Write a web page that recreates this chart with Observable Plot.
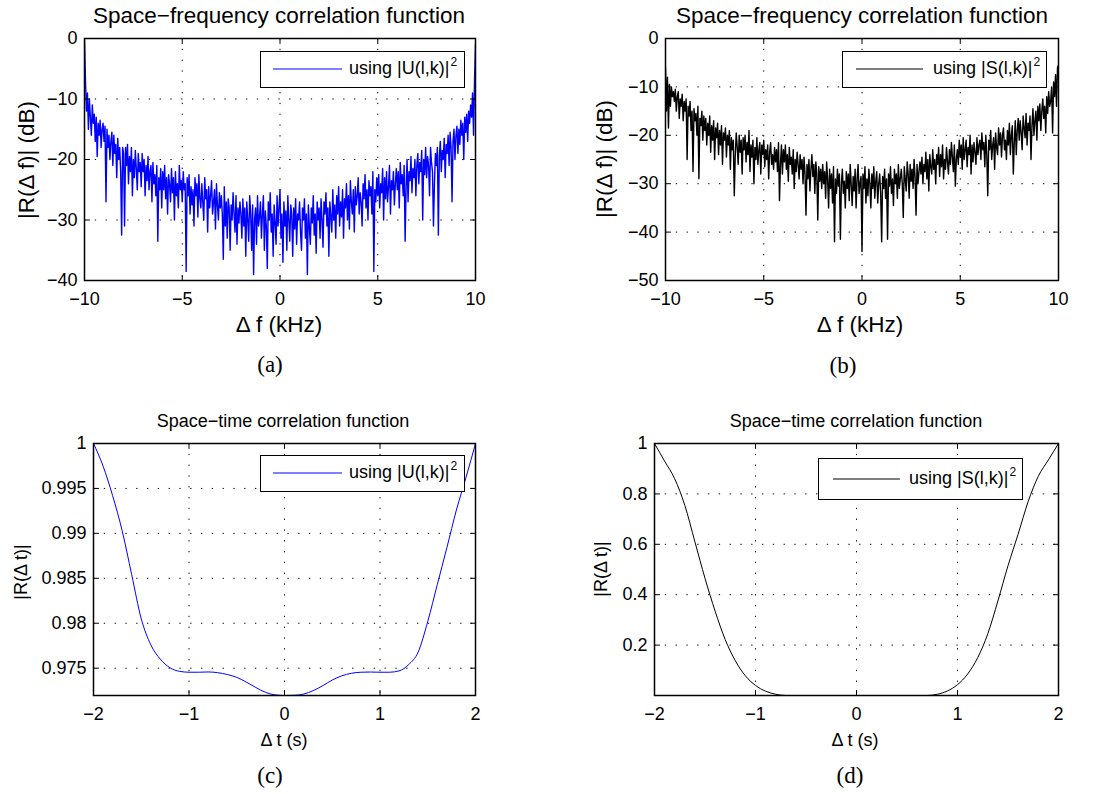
<!DOCTYPE html>
<html><head><meta charset="utf-8">
<script src="https://cdn.jsdelivr.net/npm/d3@7"></script>
<script src="https://cdn.jsdelivr.net/npm/@observablehq/plot@0.6"></script>
<style>
body{margin:0;background:#fff;}
#root{position:relative;width:1098px;height:794px;overflow:hidden;font-family:"Liberation Sans",Arial,sans-serif;color:#000;background:#fff;}
.pl{position:absolute;}
.c{position:absolute;transform:translate(-50%,-50%);white-space:nowrap;line-height:1;}
.rot{position:absolute;transform:translate(-50%,-50%) rotate(-90deg);white-space:nowrap;line-height:1;}
.cap{font-family:"Liberation Serif","Times New Roman",serif;font-size:23px;}
.legend{position:absolute;border:1.4px solid #000;background:#fff;box-sizing:border-box;}
.legend svg{position:absolute;overflow:visible;}
.legend .tx{position:absolute;font-size:18px;line-height:1;white-space:nowrap;}
.legend sup{font-size:12px;vertical-align:0;position:relative;top:-8px;margin-left:1px;}
</style></head><body><div id="root"></div>
<script>
// ---- data ----
const freqStart = -10, freqStep = 0.05; // kHz sampling of panels (a),(b)
const corrU_dB = [
 0,-7,-12,-9,-15,-10,-13,-16,-11,-14,-12.5,-17,-13,-19.5,-14,-16,-13.5,-18,-15,-14,
 -17,-14.5,-27,-15,-18,-16,-20,-17,-15.5,-21,-16,-19,-17.5,-23,-16.5,-20,-18,-22,-32.5,-18,
 -19,-31,-18,-21,-17.5,-24,-19.5,-22,-18,-26,-20,-23,-18.5,-21.5,-25,-19,-22,-20.5,-24.5,-19,
 -22,-20,-26,-21,-23.5,-19.5,-25,-22,-21,-27,-20.5,-24,-22.5,-26,-21,-33.5,-23,-25,-21.5,-28,
 -22,-25,-21,-26.5,-23,-29,-22.5,-24,-27,-21.5,-25.5,-23,-30,-22,-26,-24,-28,-21,-25,-23.5,
 -27,-22,-25,-24,-38.5,-23,-26,-22.5,-29,-24.5,-27.5,-25,-31,-23,-26,-24,-29.5,-22.5,-26.5,-28,
 -24,-27,-30,-23,-26.5,-25,-32,-24.5,-28,-26,-23.5,-29,-27,-25,-31.5,-24,-27.5,-30,-25.5,-28,
 -26,-29,-36.5,-24.5,-31,-27,-33,-26.5,-28,-35,-27.5,-30,-25.5,-29,-32,-26,-34,-28,-30.5,-27,
 -29,-33,-26.5,-31,-28,-36,-27,-30,-33.5,-26,-29,-35,-27.5,-39,-30,-28,-34,-26,-31,-29.5,
 -27,-33,-29,-26,-35,-28.5,-31,-38,-27,-30,-25.5,-32,-29,-36,-27.5,-30.5,-34,-26,-31,-28,
 -25,-33,-29,-37,-27,-31,-28.5,-35,-26,-30,-33.5,-27.5,-29,-36,-28,-31.5,-26.5,-34,-29,-30,
 -27,-32,-35,-28,-30,-26.5,-33,-29,-39,-27.5,-31,-34,-28,-30.5,-26,-32.5,-29,-35.5,-27,-30,
 -28,-33,-26.5,-30,-34.5,-27,-29,-25.5,-31,-28,-36,-27,-29.5,-32,-25,-30,-27.5,-33,-26,-29,
 -24.5,-31,-27,-29.5,-25,-33,-26.5,-28,-24,-30,-26,-31.5,-23.5,-27,-29,-25,-32,-24.5,-27.5,-26,
 -23,-29,-25.5,-27,-31,-24,-26.5,-22.5,-28,-25,-30,-23.5,-26,-24.5,-29,-22,-38.5,-25,-27,-23,
 -26,-22.5,-28,-24,-25.5,-21.5,-30,-23,-26.5,-22,-27,-24.5,-21,-29,-23.5,-25,-22,-27.5,-24,-21.5,
 -25,-22,-28,-20.5,-24,-22.5,-26,-21,-33.5,-24.5,-20,-27,-22,-23.5,-19.5,-25.5,-21.5,-23,-20,-26,
 -21,-19,-24,-20.5,-22,-18.5,-30,-20,-22.5,-18,-23,-19.5,-21,-26,-18,-20.5,-22,-31,-24,-19,
 -21,-18,-32.5,-19.5,-17,-22,-18.5,-20,-16.5,-23,-17.5,-19,-16,-21,-15.5,-18,-27,-17,-15,-20,
 -16,-14.5,-19,-15,-17.5,-13.5,-16,-14,-20,-13,-15.5,-12.5,-17,-12,-14,-11,-13,-9,-16,-7,-1
];
const corrS_dB = [
 -6,-15,-8,-18.5,-9.5,-14,-10,-12,-11,-13,-10.5,-15,-12,-11,-16.5,-12.5,-14,-11.5,-17,-13,
 -15,-12.5,-25,-14,-16,-13,-19,-15,-27.5,-14.5,-17,-15.5,-20,-14,-29,-16.5,-18,-15,-21,-16,
 -19,-16.5,-22,-17.5,-20,-16,-23.5,-18,-21,-17,-25,-18.5,-20.5,-17.5,-24,-19,-22,-18,-26,-19.5,
 -21,-18.5,-24.5,-20,-22,-19,-27,-20.5,-23,-21,-32.5,-24,-19.5,-22.5,-26,-20,-23.5,-21,-28,-20.5,
 -23,-20,-25.5,-21.5,-24,-19,-27.5,-22,-24.5,-21,-30,-22.5,-25,-20.5,-26,-23,-21.5,-28,-22,-24,
 -21,-26.5,-23,-25,-22,-29,-23.5,-21.5,-26,-24,-27,-22.5,-25.5,-23,-27.5,-21.5,-33.5,-26,-22,-28,
 -23,-25.5,-22,-27,-24,-29.5,-22.5,-26,-24.5,-28,-23,-31,-25,-27.5,-23.5,-26,-29,-24,-27,-25,
 -30,-24.5,-28,-36.5,-26,-29,-25,-31.5,-27,-24,-28.5,-26,-32,-25.5,-28,-37.5,-26.5,-29.5,-27,-31,
 -26,-30,-27.5,-33,-25.5,-29,-35,-27,-31,-28,-34,-26.5,-42,-29,-32,-27,-30.5,-28,-41.5,-30,
 -27,-32,-29.5,-35,-27.5,-31,-28,-33.5,-26,-30,-34.5,-28.5,-31.5,-27,-35,-29,-26,-32,-30,-28.5,
 -44,-28,-31,-26.5,-34,-29,-32.5,-27,-30,-35,-28,-31,-26.5,-33,-29.5,-27.5,-34,-30,-28,-32,
 -42,-28.5,-31,-27,-33,-29,-41.5,-28,-30.5,-26.5,-32,-29,-34.5,-27,-30,-28,-33,-26,-31,-29,
 -27,-30,-37,-26.5,-29,-31.5,-25.5,-28,-33,-26,-29.5,-27,-31,-25,-28.5,-36.5,-26,-30,-27.5,-25.5,
 -28,-24.5,-30,-26,-27.5,-23.5,-29,-25,-31.5,-24,-26.5,-28,-23,-27,-25,-30,-24,-26,-22.5,-28.5,
 -24,-26.5,-22,-29,-25,-27,-22.5,-25.5,-28,-23,-26,-21.5,-24.5,-27.5,-22,-30.5,-25,-23,-26,-21,
 -24.5,-22,-27,-20.5,-25,-23,-21,-26.5,-22.5,-24,-20,-28,-22,-25.5,-21.5,-23.5,-26,-20.5,-24,-22,
 -21,-25,-19.5,-23,-21.5,-26.5,-20,-24,-32.5,-21,-23,-19,-25,-22,-20.5,-27,-19.5,-22.5,-24,-18.5,
 -22,-19.5,-24.5,-20,-18.5,-23,-21,-25,-19,-22,-17.5,-24,-20,-18,-28,-21.5,-17,-24,-19,-16.5,
 -21,-17,-19.5,-23,-16,-18.5,-20.5,-15.5,-22,-17.5,-19,-16,-25,-18,-14.5,-20,-17,-15,-21,-14,
 -17,-13.5,-19,-15,-12.5,-16.5,-14,-19.5,-12,-15.5,-11,-14,-13,-10,-19.5,-9,-12,-7.5,-14,-6,-5.5
];
const timeS = [-2,-1.9,-1.8,-1.7,-1.6,-1.5,-1.4,-1.3,-1.2,-1.1,-1,-0.9,-0.8,-0.7,-0.6,-0.5,-0.4,-0.3,-0.2,-0.1,0,
 0.1,0.2,0.3,0.4,0.5,0.6,0.7,0.8,0.9,1,1.1,1.2,1.3,1.4,1.5,1.6,1.7,1.8,1.9,2];
const corrU_t = [1.0,0.9975,0.9942,0.9903,0.9854,0.9805,0.9776,0.9760,0.97505,0.97465,0.97455,0.97455,0.97458,0.9745,0.9743,0.97398,0.97345,0.97285,0.97232,0.97203,0.97196,
 0.97198,0.97212,0.9725,0.97305,0.97368,0.97415,0.97443,0.97455,0.97457,0.97455,0.97455,0.9747,0.9754,0.9768,0.9802,0.9843,0.9884,0.9926,0.9962,1.0];
const corrS_t = [1.0,0.93,0.86,0.755,0.61,0.465,0.335,0.222,0.138,0.078,0.04,0.017,0.005,0,0,0,0,0,0,0,0,
 0,0,0,0,0,0,0,0.005,0.018,0.043,0.085,0.15,0.245,0.375,0.515,0.64,0.77,0.87,0.935,1.0];

const freqTicks = [-10,-5,0,5,10];
const dbTicksA = [-40,-30,-20,-10,0];
const dbTicksB = [-50,-40,-30,-20,-10,0];
const timeTicks = [-2,-1,0,1,2];
const rTicksC = [0.975,0.98,0.985,0.99,0.995,1];
const rTicksD = [0.2,0.4,0.6,0.8,1];

// ---- build ----
const fmt = d => (d < 0 ? "\u2212" : "") + Math.abs(d);
const seriesA = corrU_dB.map((v,i) => ({x: freqStart + i*freqStep, y: v}));
const seriesB = corrS_dB.map((v,i) => ({x: freqStart + i*freqStep, y: v}));
const seriesC = timeS.map((t,i) => ({x: t, y: corrU_t[i]}));
const seriesD = timeS.map((t,i) => ({x: t, y: corrS_t[i]}));

const tickShape = {draw(context, l){ context.moveTo(0,0); context.lineTo(0,-l); }};

function panel(o){
  const grid = {stroke:"#000", strokeOpacity:1, strokeWidth:1, strokeDasharray:"1.3,9.5"};
  const tk = {length:5, shape:tickShape, anchor:"start", stroke:"#000", strokeWidth:1};
  return Plot.plot({
    width:o.w, height:o.h, marginLeft:o.ml, marginRight:o.mr, marginTop:o.mt, marginBottom:o.mb,
    style:{fontFamily:"Liberation Sans, Arial, sans-serif", fontSize:"18px", color:"#000", background:"transparent", overflow:"visible"},
    x:{domain:o.xd}, y:{domain:o.yd},
    marks:[
      Plot.gridX(o.xt.filter(v => v!==o.xd[0] && v!==o.xd[1]), grid),
      Plot.gridY(o.yt.filter(v => v!==o.yd[0] && v!==o.yd[1]), grid),
      Plot.line(o.data, {x:"x", y:"y", stroke:o.color, strokeWidth:o.sw||1, curve:o.curve||"linear", clip:true}),
      Plot.axisX(o.xt, {anchor:"bottom", tickSize:0, tickPadding:12, tickFormat:fmt, label:null, fontSize:18}),
      Plot.axisY(o.yt, {anchor:"left", tickSize:0, tickPadding:7, tickFormat:fmt, label:null, fontSize:18}),
      // inward tick marks on all four sides
      Plot.vector(o.xt, {x:d=>d, y:()=>o.yd[0], rotate:0, ...tk}),
      Plot.vector(o.xt, {x:d=>d, y:()=>o.yd[1], rotate:180, ...tk}),
      Plot.vector(o.yt, {y:d=>d, x:()=>o.xd[0], rotate:90, ...tk}),
      Plot.vector(o.yt, {y:d=>d, x:()=>o.xd[1], rotate:270, ...tk}),
      Plot.frame({stroke:"#000", strokeWidth:1.5})
    ]
  });
}

const root = document.getElementById("root");
function place(el, left, top){ const d = document.createElement("div"); d.className="pl"; d.style.left=left+"px"; d.style.top=top+"px"; d.appendChild(el); root.appendChild(d); }
function text(cls, str, x, y, size){ const d=document.createElement("div"); d.className=cls; d.style.left=x+"px"; d.style.top=y+"px"; if(size) d.style.fontSize=size+"px"; d.innerHTML=str; root.appendChild(d); }
function legend(x, y, w, h, lx1, lx2, ly, tx, color, sym){
  const d=document.createElement("div"); d.className="legend";
  d.style.left=x+"px"; d.style.top=y+"px"; d.style.width=w+"px"; d.style.height=h+"px";
  const L = lx2-lx1;
  d.innerHTML = `<svg width="${L}" height="4" style="left:${lx1-x-1}px;top:${ly-y-3}px"><line x1="0" x2="${L}" y1="2" y2="2" stroke="${color}" stroke-width="1.2"/></svg>`+
    `<div class="tx" style="left:${tx-x}px;top:${ly-y-11}px">using |${sym}(l,k)|<sup>2</sup></div>`;
  root.appendChild(d);
}

place(panel({data:seriesA, color:"#0000ff", sw:1.4, w:549, h:320, ml:84, mr:74, mt:38, mb:40, xd:[-10,10], yd:[-40,0], xt:freqTicks, yt:dbTicksA}), 0, 0);
place(panel({data:seriesB, color:"#000000", sw:1.4, w:548, h:320, ml:115, mr:40, mt:38, mb:40, xd:[-10,10], yd:[-50,0], xt:freqTicks, yt:dbTicksB}), 550, 0);
place(panel({data:seriesC, color:"#0000ff", w:549, h:330, ml:93, mr:74, mt:43, mb:35, xd:[-2,2], yd:[0.97196,1], xt:timeTicks, yt:rTicksC, curve:"monotone-x"}), 0, 400);
place(panel({data:seriesD, color:"#000000", w:548, h:330, ml:104, mr:40, mt:43, mb:35, xd:[-2,2], yd:[0,1], xt:timeTicks, yt:rTicksD, curve:"monotone-x"}), 550, 400);

// titles
text("c", "Space\u2212frequency correlation function", 279, 16, 22.5);
text("c", "Space\u2212frequency correlation function", 862, 16, 22.5);
text("c", "Space\u2212time correlation function", 283, 421, 18);
text("c", "Space\u2212time correlation function", 856, 421, 18);
// axis labels
text("c", "\u0394 f (kHz)", 279, 325, 22.5);
text("c", "\u0394 f (kHz)", 860, 325, 22.5);
text("rot", "|R(\u0394 f)| (dB)", 27, 160, 22.5);
text("rot", "|R(\u0394 f)| (dB)", 605, 159, 22.5);
text("c", "\u0394 t (s)", 284, 740, 18);
text("c", "\u0394 t (s)", 855, 740, 18);
text("rot", "|R(\u0394 t)|", 21, 572, 18);
text("rot", "|R(\u0394 t)|", 601, 569, 18);
// captions
text("c cap", "(a)", 270, 364);
text("c cap", "(b)", 843, 365);
text("c cap", "(c)", 270, 775);
text("c cap", "(d)", 850, 775);
// legends
legend(260, 51, 205, 37, 273, 342, 69, 348, "#0000ff", "U");
legend(842, 51, 205, 37, 856, 923, 69, 932, "#000000", "S");
legend(260, 455, 205, 37, 273, 342, 473, 348, "#0000ff", "U");
legend(818, 458, 205, 42, 833, 900, 479, 908, "#000000", "S");
</script>
</body></html>
